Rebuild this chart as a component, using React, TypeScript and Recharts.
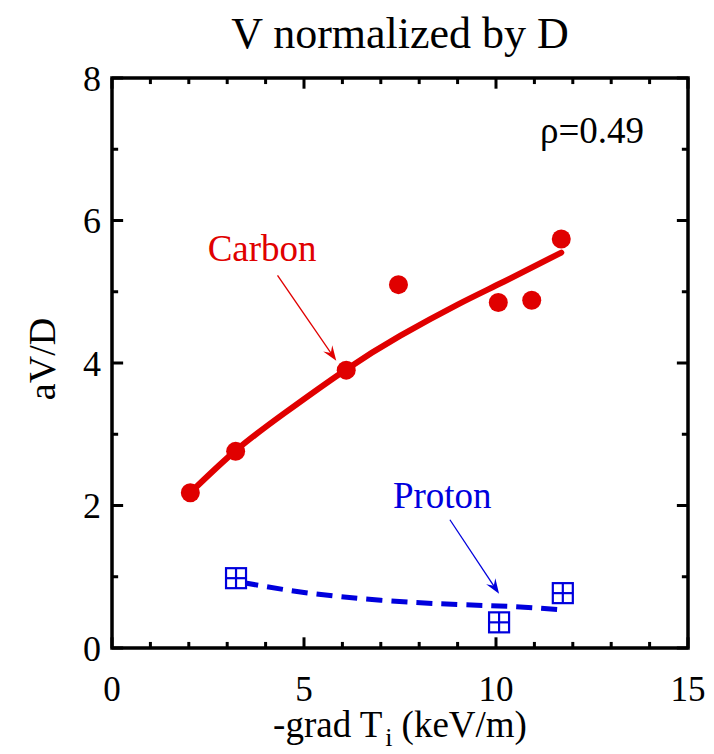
import {
  ComposedChart,
  Line,
  ReferenceArea,
  ReferenceDot,
  ReferenceLine,
  Scatter,
  XAxis,
  YAxis,
} from "recharts";

// measured carbon / proton points
const carbonX = [2.04, 3.22, 6.1, 7.46, 10.06, 10.93, 11.7];
const carbonY = [2.18, 2.76, 3.9, 5.1, 4.85, 4.88, 5.74];
const protonX = [3.23, 10.08, 11.74];
const protonY = [0.98, 0.36, 0.77];

// fitted curves
const carbonFitX = [2.04, 3.22, 4.5, 6.1, 7.5, 9, 10.2, 11.7];
const carbonFitY = [2.18, 2.77, 3.3, 3.91, 4.38, 4.82, 5.14, 5.55];
const protonFitX = [3.4, 5, 7, 9, 10.5, 11.8];
const protonFitY = [0.92, 0.78, 0.67, 0.61, 0.58, 0.53];

const xMajor = [0, 5, 10, 15];
const xMinor = [1, 2, 3, 4, 6, 7, 8, 9, 11, 12, 13, 14];
const yMajor = [0, 2, 4, 6, 8];
const yMinor = [1, 3, 5, 7];

const RED = "#e00000";
const BLUE = "#0000dd";
const FONT = "'Liberation Serif', 'Times New Roman', serif";

const zip = (xs: number[], ys: number[]) => xs.map((x, i) => ({ x, y: ys[i] }));

const carbon = zip(carbonX, carbonY);
const proton = zip(protonX, protonY);
const carbonFit = zip(carbonFitX, carbonFitY);
const protonFit = zip(protonFitX, protonFitY);

// inward tick lengths, in axis units (about 10px / 6px)
const X_MAJ = 0.15;
const X_MIN = 0.085;
const Y_MAJ = 0.29;
const Y_MIN = 0.16;

const serif = (size: number, color = "#000") => ({ fontFamily: FONT, fontSize: size, fill: color });

const arrowShape = (color: string, width: number) => (props: any) => {
  const { x1, y1, x2, y2 } = props;
  if (x1 == null) return <g />;
  const ang = Math.atan2(y2 - y1, x2 - x1);
  const len = 16;
  const spread = 0.35;
  const bx1 = x2 - len * Math.cos(ang - spread);
  const by1 = y2 - len * Math.sin(ang - spread);
  const bx2 = x2 - len * Math.cos(ang + spread);
  const by2 = y2 - len * Math.sin(ang + spread);
  const nx = x2 - len * 0.6 * Math.cos(ang);
  const ny = y2 - len * 0.6 * Math.sin(ang);
  return (
    <g>
      <line x1={x1} y1={y1} x2={nx} y2={ny} stroke={color} strokeWidth={width} />
      <path d={`M${x2},${y2} L${bx1},${by1} L${nx},${ny} L${bx2},${by2} Z`} fill={color} />
    </g>
  );
};

const ProtonMark = (props: any) => {
  const { cx, cy } = props;
  const h = 10;
  return (
    <g stroke={BLUE} strokeWidth={2.2} fill="#fff">
      <rect x={cx - h} y={cy - h} width={2 * h} height={2 * h} />
      <line x1={cx - h} y1={cy} x2={cx + h} y2={cy} />
      <line x1={cx} y1={cy - h} x2={cx} y2={cy + h} />
    </g>
  );
};

const tick = (key: string, a: { x: number; y: number }, b: { x: number; y: number }) => (
  <ReferenceLine
    key={key}
    xAxisId="x"
    yAxisId="y"
    segment={[a, b]}
    stroke="#000"
    strokeWidth={3}
    ifOverflow="visible"
  />
);

const textLabel = (value: string, size: number, color: string) => ({ viewBox }: any) => (
  <text
    x={viewBox.x + viewBox.width / 2}
    y={viewBox.y + viewBox.height / 2}
    textAnchor="middle"
    dominantBaseline="central"
    fontFamily={FONT}
    style={serif(size, color)}
  >
    {value}
  </text>
);

const XTick = (p: any) => (
  <text x={p.x} y={p.y} dy="0.72em" textAnchor="middle" fontFamily={FONT} style={serif(35)}>
    {p.payload.value}
  </text>
);

const YTick = (p: any) => (
  <text x={p.x} y={p.y} dy="0.35em" textAnchor="end" fontFamily={FONT} style={serif(36)}>
    {p.payload.value}
  </text>
);

const App = () => {
  return (
    <div
      style={{
        position: "absolute",
        left: 0,
        top: 0,
        width: 714,
        height: 754,
        background: "#fff",
        fontFamily: FONT,
      }}
    >
      <div
        style={{
          position: "absolute",
          left: 112,
          top: 12,
          width: 576,
          textAlign: "center",
          fontFamily: FONT,
          fontSize: 44,
          lineHeight: "44px",
        }}
      >
        V normalized by D
      </div>
      <ComposedChart
        width={714}
        height={754}
        margin={{ top: 78, right: 26, bottom: 0, left: 0 }}
        style={{ fontFamily: FONT }}
      >
        <XAxis
          xAxisId="x"
          dataKey="x"
          type="number"
          domain={[0, 15]}
          ticks={xMajor}
          interval={0}
          height={106}
          tickSize={0}
          tickMargin={28}
          tickLine={false}
          axisLine={false}
          tick={XTick}
          label={{
            content: ({ viewBox }: any) => {
              const cx = viewBox.x + viewBox.width / 2;
              const by = viewBox.y + 89;
              return (
                <text x={cx} y={by} textAnchor="middle" fontFamily={FONT} style={serif(37)}>
                  -grad T
                  <tspan style={{ fontSize: 26 }} dx={3} dy={9}>
                    i
                  </tspan>
                  <tspan dx={9} dy={-9}>
                    (keV/m)
                  </tspan>
                </text>
              );
            },
          }}
        />
        <YAxis
          yAxisId="y"
          dataKey="y"
          type="number"
          domain={[0, 8]}
          ticks={yMajor}
          interval={0}
          width={112}
          tickSize={0}
          tickMargin={11}
          tickLine={false}
          axisLine={false}
          tick={YTick}
          label={{
            content: ({ viewBox }: any) => {
              const cx = 42;
              const cy = viewBox.y + viewBox.height / 2 - 4;
              return (
                <text
                  x={cx}
                  y={cy}
                  transform={`rotate(-90, ${cx}, ${cy})`}
                  textAnchor="middle"
                  dominantBaseline="central"
                  fontFamily={FONT}
                  style={serif(38)}
                >
                  aV/D
                </text>
              );
            },
          }}
        />

        {xMajor.map((t) => tick(`xb${t}`, { x: t, y: 0 }, { x: t, y: X_MAJ }))}
        {xMinor.map((t) => tick(`xbm${t}`, { x: t, y: 0 }, { x: t, y: X_MIN }))}
        {xMajor.map((t) => tick(`xt${t}`, { x: t, y: 8 }, { x: t, y: 8 - X_MAJ }))}
        {xMinor.map((t) => tick(`xtm${t}`, { x: t, y: 8 }, { x: t, y: 8 - X_MIN }))}
        {yMajor.map((t) => tick(`yl${t}`, { x: 0, y: t }, { x: Y_MAJ, y: t }))}
        {yMinor.map((t) => tick(`ylm${t}`, { x: 0, y: t }, { x: Y_MIN, y: t }))}
        {yMajor.map((t) => tick(`yr${t}`, { x: 15, y: t }, { x: 15 - Y_MAJ, y: t }))}
        {yMinor.map((t) => tick(`yrm${t}`, { x: 15, y: t }, { x: 15 - Y_MIN, y: t }))}

        <ReferenceArea
          xAxisId="x"
          yAxisId="y"
          x1={0}
          x2={15}
          y1={0}
          y2={8}
          fill="none"
          fillOpacity={0}
          stroke="#000"
          strokeWidth={3.5}
          ifOverflow="visible"
        />

        <Line
          xAxisId="x"
          yAxisId="y"
          data={carbonFit}
          dataKey="y"
          type="natural"
          stroke={RED}
          strokeWidth={6}
          strokeLinecap="round"
          dot={false}
          activeDot={false}
          isAnimationActive={false}
        />
        <Line
          xAxisId="x"
          yAxisId="y"
          data={protonFit}
          dataKey="y"
          type="natural"
          stroke={BLUE}
          strokeWidth={5}
          strokeDasharray="16 9"
          dot={false}
          activeDot={false}
          isAnimationActive={false}
        />
        <Scatter
          xAxisId="x"
          yAxisId="y"
          data={carbon}
          dataKey="y"
          isAnimationActive={false}
          shape={(p: any) => <circle cx={p.cx} cy={p.cy} r={9.5} fill={RED} />}
        />
        <Scatter
          xAxisId="x"
          yAxisId="y"
          data={proton}
          dataKey="y"
          isAnimationActive={false}
          shape={ProtonMark}
        />

        <ReferenceLine
          xAxisId="x"
          yAxisId="y"
          segment={[{ x: 4.31, y: 5.23 }, { x: 5.84, y: 4.03 }]}
          ifOverflow="visible"
          shape={arrowShape(RED, 1.3)}
        />
        <ReferenceLine
          xAxisId="x"
          yAxisId="y"
          segment={[{ x: 8.8, y: 1.8 }, { x: 10.08, y: 0.76 }]}
          ifOverflow="visible"
          shape={arrowShape(BLUE, 1.3)}
        />
        <ReferenceDot
          xAxisId="x"
          yAxisId="y"
          x={3.91}
          y={5.61}
          r={0}
          stroke="none"
          fill="none"
          label={{ content: textLabel("Carbon", 37, RED) }}
        />
        <ReferenceDot
          xAxisId="x"
          yAxisId="y"
          x={8.6}
          y={2.14}
          r={0}
          stroke="none"
          fill="none"
          label={{ content: textLabel("Proton", 37, BLUE) }}
        />
        <ReferenceDot
          xAxisId="x"
          yAxisId="y"
          x={12.5}
          y={7.26}
          r={0}
          stroke="none"
          fill="none"
          label={{ content: textLabel("ρ=0.49", 37, "#000") }}
        />
      </ComposedChart>
    </div>
  );
};

export default App;
